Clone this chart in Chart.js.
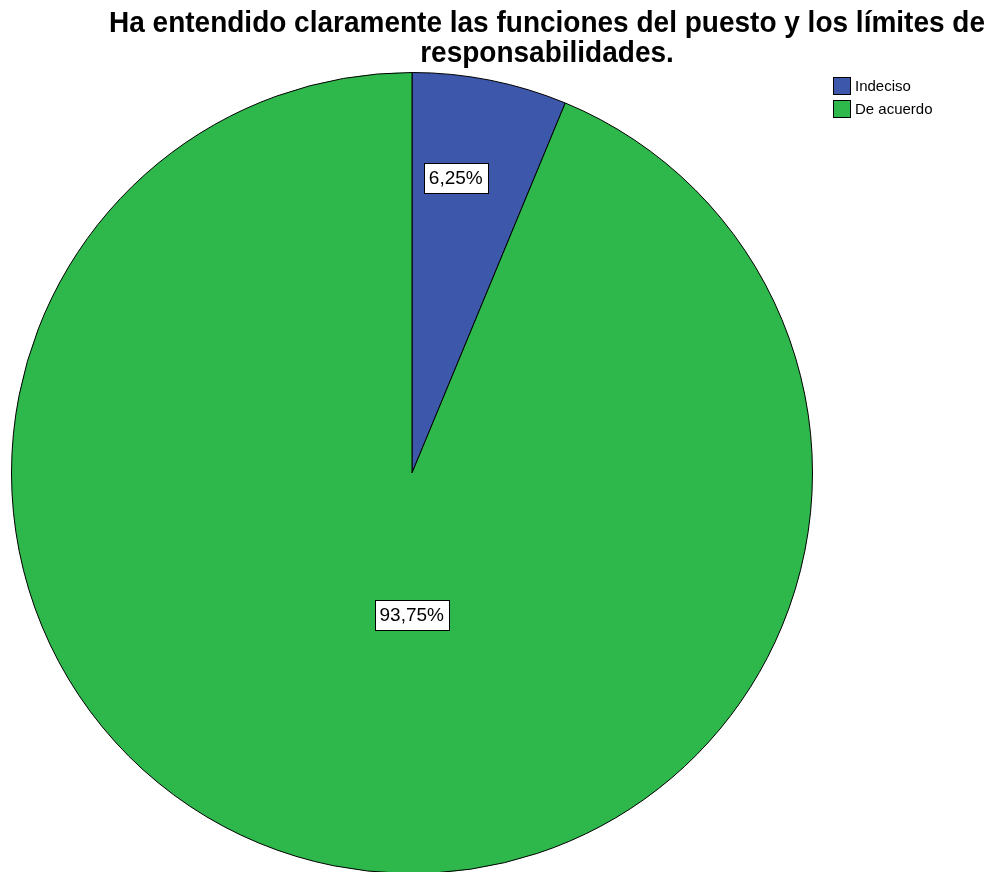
<!DOCTYPE html>
<html>
<head>
<meta charset="utf-8">
<title>Funciones del puesto</title>
<script src="https://cdn.jsdelivr.net/npm/chart.js@4.4.1/dist/chart.umd.min.js"></script>
<style>
  html, body { margin: 0; padding: 0; background: #fff; overflow: hidden; }
  #wrap { position: relative; width: 1000px; height: 880px; }
</style>
</head>
<body>
<div id="wrap"><canvas id="canvas" width="1000" height="880"></canvas></div>
<script>
let titleLines = ["Ha entendido claramente las funciones del puesto y los límites de", "responsabilidades."];
let categories = ["Indeciso", "De acuerdo"];
let percents = [6.25, 93.75];
let colors = ["#3d57ab", "#2eb84b"];

let fmt = v => v.toFixed(2).replace(".", ",") + "%";

// title, legend and value boxes drawn on top of the pie
let decorations = {
    id: "decorations",
    afterDraw(chart, args, opts) {
        let ctx = chart.ctx;
        ctx.save();
        ctx.fillStyle = "#000";
        ctx.textAlign = "center";
        ctx.textBaseline = "alphabetic";
        ctx.font = "bold 28px 'Liberation Sans', Arial, sans-serif";
        titleLines.forEach((line, i) => {
            ctx.save();
            ctx.translate(547, 32 + i * 30);
            ctx.scale(1, 1.08);
            ctx.fillText(line, 0, 0);
            ctx.restore();
        });

        // legend
        ctx.font = "15px 'Liberation Sans', Arial, sans-serif";
        ctx.textAlign = "left";
        ctx.textBaseline = "middle";
        categories.forEach((c, i) => {
            let y = 77 + i * 23;
            ctx.fillStyle = colors[i];
            ctx.fillRect(833.5, y + 0.5, 17, 17);
            ctx.strokeStyle = "#000";
            ctx.lineWidth = 1;
            ctx.strokeRect(833.5, y + 0.5, 17, 17);
            ctx.fillStyle = "#000";
            ctx.fillText(c, 855, y + 10);
        });

        // value boxes, placed inside each slice by (angle fraction, radius fraction)
        let arcs = chart.getDatasetMeta(0).data;
        ctx.font = "19px 'Liberation Sans', Arial, sans-serif";
        ctx.textAlign = "center";
        arcs.forEach((arc, i) => {
            let p = arc.getProps(["x", "y", "startAngle", "endAngle", "outerRadius"], true);
            let [af, rf] = opts.spots[i];
            let ang = p.startAngle + (p.endAngle - p.startAngle) * af;
            let r = p.outerRadius * rf;
            let x = p.x + Math.cos(ang) * r;
            let y = p.y + Math.sin(ang) * r;
            let text = fmt(percents[i]);
            let w = Math.round(ctx.measureText(text).width + 10);
            let h = 30;
            let bx = Math.round(x - w / 2) + 0.5;
            let by = Math.round(y - h / 2) + 0.5;
            ctx.fillStyle = "#fff";
            ctx.fillRect(bx, by, w, h);
            ctx.strokeStyle = "#000";
            ctx.lineWidth = 1;
            ctx.strokeRect(bx, by, w, h);
            ctx.fillStyle = "#000";
            ctx.fillText(text, x, y + 1);
        });
        ctx.restore();
    }
};

let chart = new Chart(document.getElementById("canvas").getContext("2d"), {
    type: "pie",
    data: {
        labels: categories,
        datasets: [{
            data: percents,
            backgroundColor: colors,
            borderColor: "#000",
            borderWidth: 1
        }]
    },
    options: {
        responsive: false,
        animation: false,
        layout: {
            padding: { left: 11, right: 187, top: 72, bottom: 6 }
        },
        plugins: {
            legend: { display: false },
            title: { display: false },
            tooltip: { enabled: false },
            decorations: { spots: [[0.375, 0.745], [0.467, 0.354]] }
        }
    },
    plugins: [decorations]
});
</script>
</body>
</html>
